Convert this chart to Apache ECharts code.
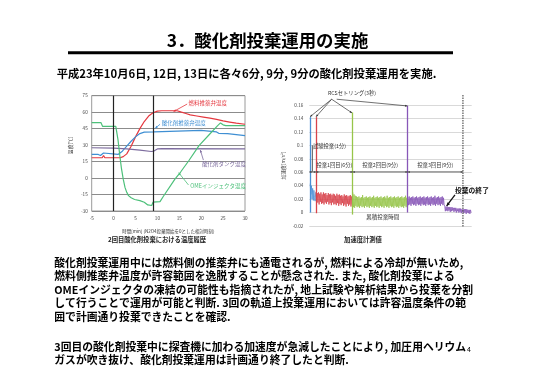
<!DOCTYPE html>
<html><head><meta charset="utf-8">
<script src="https://cdn.jsdelivr.net/npm/echarts/dist/echarts.min.js"></script>
<style>html,body{margin:0;padding:0;background:#fff}#c{width:550px;height:388px}</style>
</head><body><div id="c"></div>
<script>
const FONT = '"Noto Sans CJK JP","Noto Sans",sans-serif';

// ---------- Left chart: temperature history (2nd oxidizer dump) ----------
const tempXMin = -5, tempXMax = 30, tempXStep = 5;
const tempYMin = -30, tempYMax = 75, tempYStep = 15;
// [time (min), temperature (degC)]
const fuelValveTemp = [[-5,18.5],[-2.6,18.5],[-2.3,20.5],[-2.0,18.5],[1.5,18.5],[2.2,19.5],[3,22],[4,29],[5,37.5],[6,45],[7,51.5],[8,56.5],[9,59.5],[10,61],[11,61.3],[14.5,61.3],[15.5,60],[16.5,58.8],[17.5,57.5],[19,56.5],[20.5,55.5],[22,54.5],[23.5,53.5],[25,52],[26.5,51],[28,50],[30,49]];
const oxValveTemp = [[-5,21.5],[-3.5,21.5],[-3.0,20.5],[-2.6,20.5],[-2.3,22.8],[-2.0,21.5],[1,21.5],[2,24.5],[3,29],[4,33.5],[5,37.5],[6,40.5],[7,41.8],[9.2,42],[9.6,43.5],[20,43.5],[20.3,42.3],[23.5,42],[24,40.7],[26,40.5],[26.3,38.8],[30,38.6]];
const oxTankTemp = [[-5,27.6],[0,27.2],[3,26.6],[6,25.5],[8.6,24.2],[9.2,24.6],[10,26.5],[11,26.8],[30,26.5]];
const omeInjTemp = [[-5,50.5],[-2.9,50.5],[-2.5,47],[0.5,47],[1.0,35],[1.4,21],[1.8,8.5],[2.2,-1],[2.6,-8.5],[3.0,-13],[3.4,-16],[4,-18],[4.8,-19.5],[6,-20.5],[7,-22],[7.8,-24.5],[8.7,-25],[9.0,-22],[10.6,-21.5],[11.3,-17],[14,-1],[15.3,5.5],[17.2,16],[19.5,29.5],[21.7,39],[23.7,47.5],[24.4,50.2],[25,48.5],[25.6,47.8],[30,47.8]];
const dumpEventTimes = [0, 9];
const tempSeriesNames = ['燃料推薬弁温度','酸化剤推薬弁温度','酸化剤タンク温度','OMEインジェクタ温度'];
const tempColors = ['#e5383f','#3f8fd3','#7d6c9e','#4dc07a'];

// ---------- Right chart: acceleration ----------
const accYMin = -0.02, accYMax = 0.16, accYStep = 0.02;
const accXMax = 26.5;
const sampleStep = 0.1;
const testStart = 0.15;
const testAcc = [0.043,0.027,0.040,0.020,0.036,0.018,0.033,0.022,0.017,0.030];
const dump1Start = 1.1;
const dump1Acc = [0.031,0.014,0.029,0.015,0.030,0.012,0.028,0.016,0.030,0.013,
0.027,0.014,0.030,0.012,0.028,0.015,0.029,0.013,0.026,0.016,
0.029,0.012,0.027,0.014,0.028,0.011,0.026,0.015,0.028,0.012,
0.027,0.013,0.025,0.011,0.028,0.014,0.026,0.010,0.027,0.013,
0.025,0.011,0.026,0.014,0.024,0.010,0.027,0.012,0.025,0.009,
0.026,0.013,0.024,0.010,0.025,0.012,0.026,0.009,0.024,0.012,0.022];
const dump2Start = 7.1;
const dump2Acc = [0.030,0.008,0.027,0.007,0.025,0.010,0.024,0.008,0.023,0.009,
0.024,0.007,0.022,0.010,0.023,0.008,0.026,0.009,0.022,0.007,
0.023,0.010,0.024,0.008,0.022,0.009,0.023,0.007,0.024,0.010,
0.022,0.008,0.023,0.009,0.025,0.007,0.022,0.010,0.023,0.008,
0.024,0.009,0.022,0.007,0.023,0.010,0.024,0.008,0.022,0.009,
0.023,0.007,0.024,0.010,0.022,0.008,0.025,0.009,0.022,0.007,
0.023,0.010,0.024,0.008,0.022,0.009,0.023,0.007,0.024,0.010,
0.022,0.008,0.023,0.009,0.024,0.007,0.022,0.010,0.023,0.008,
0.024,0.009,0.022,0.007,0.023,0.010,0.025,0.008,0.022,0.009];
const dump3Start = 16.1;
const dump3Acc = [0.023,0.011,0.024,0.012,0.022,0.010,0.023,0.013,0.024,0.011,
0.022,0.012,0.023,0.010,0.024,0.013,0.022,0.011,0.023,0.012,
0.024,0.010,0.022,0.013,0.023,0.011,0.024,0.012,0.022,0.010,
0.023,0.013,0.024,0.011,0.022,0.012,0.023,0.010,0.024,0.013,
0.022,0.011,0.023,0.012,0.025,0.010,0.022,0.013,0.023,0.011,
0.024,0.012,0.022,0.010,0.023,0.013,0.024,0.011,0.022,0.012,
0.009,0.002,0.009,0.003,0.009,0.002,0.008,0.003,0.008,0.001,
0.008,0.002,0.008,0.003,0.007,0.001,0.007,0.002,0.007,0.000,
0.006,0.002,0.006,0.000,0.006,0.001,0.006,-0.001,0.005,0.001,
0.005,-0.001,0.005,0.000,0.005,-0.002,0.005,0.000,0.004,-0.001,
0.004,-0.002,0.004,0.000];
// [time, bottom, top] of RCS settling spikes
const settlingSpikes = [[0.1,0.0,0.142],[1.1,-0.001,0.142],[7.08,-0.003,0.149],[16.05,0.0,0.159]];
const segmentBounds = [0, 1.1, 7.08, 16.05, 25.07];
const segmentLabels = ['投棄1回目(6分)','投棄2回目(9分)','投棄3回目(9分)'];
const accColors = ['#4a8fd6','#d8434b','#97c54a','#8857b8'];

// ---------- Texts ----------
const titleText = '3．酸化剤投棄運用の実施';
const subtitleText = '平成23年10月6日, 12日, 13日に各々6分, 9分, 9分の酸化剤投棄運用を実施.';
const bodyPara1 = [
 '酸化剤投棄運用中には燃料側の推薬弁にも通電されるが, 燃料による冷却が無いため,',
 '燃料側推薬弁温度が許容範囲を逸脱することが懸念された. また, 酸化剤投棄による',
 'OMEインジェクタの凍結の可能性も指摘されたが, 地上試験や解析結果から投棄を分割',
 'して行うことで運用が可能と判断. 3回の軌道上投棄運用においては許容温度条件の範',
 '囲で計画通り投棄できたことを確認.'
];
const bodyPara2 = [
 '3回目の酸化剤投棄中に探査機に加わる加速度が急減したことにより, 加圧用ヘリウム',
 'ガスが吹き抜け、酸化剤投棄運用は計画通り終了したと判断.'
];

const chart = echarts.init(document.getElementById('c'), null, {renderer:'canvas'});

function seg(start, arr){ return arr.map((v,i)=>[+(start+i*sampleStep).toFixed(3), v]); }

const tempData = [fuelValveTemp, oxValveTemp, oxTankTemp, omeInjTemp];
const accSegs = [seg(testStart,testAcc), seg(dump1Start,dump1Acc), seg(dump2Start,dump2Acc), seg(dump3Start,dump3Acc)];

const series = [];
tempData.forEach((d,i)=>{
  const s = {type:'line', name:tempSeriesNames[i], xAxisIndex:0, yAxisIndex:0, data:d, showSymbol:false,
    lineStyle:{color:tempColors[i], width:1.2}, itemStyle:{color:tempColors[i]}, animation:false, z:3};
  if(i===0){
    s.markLine = {silent:true, symbol:'none', label:{show:false}, animation:false,
      lineStyle:{color:'#222', width:1.2, type:'solid'}, data: dumpEventTimes.map(x=>({xAxis:x}))};
  }
  series.push(s);
});
accSegs.forEach((d,i)=>{
  const sp = settlingSpikes[i];
  series.push({type:'line', xAxisIndex:1, yAxisIndex:1, data:d, showSymbol:false,
    lineStyle:{color:accColors[i], width:0.8}, itemStyle:{color:accColors[i]}, animation:false, z:3,
    markLine:{silent:true, symbol:'none', label:{show:false}, animation:false,
      lineStyle:{color:accColors[i], width:1.3, type:'solid'},
      data:[[{coord:[sp[0],sp[1]]},{coord:[sp[0],sp[2]]}]]}});
});

const tickLabel = {fontSize:4.6, color:'#444', fontFamily:FONT};
chart.setOption({
  animation:false,
  backgroundColor:'#fff',
  grid:[
    {left:91.7, top:95.7, width:153.3, height:115.3, show:true, borderColor:'#9a9a9a', borderWidth:1},
    {left:309.3, top:105, width:162.4, height:121}
  ],
  xAxis:[
    {type:'value', gridIndex:0, min:tempXMin, max:tempXMax, interval:tempXStep,
      axisLine:{show:false}, axisTick:{show:false}, splitLine:{show:false},
      axisLabel:Object.assign({margin:5}, tickLabel)},
    {type:'value', gridIndex:1, min:0, max:accXMax, show:false}
  ],
  yAxis:[
    {type:'value', gridIndex:0, min:tempYMin, max:tempYMax, interval:tempYStep,
      axisLine:{show:false}, axisTick:{show:false},
      splitLine:{lineStyle:{color:'#8c8c8c', width:1}},
      axisLabel:Object.assign({margin:4}, tickLabel)},
    {type:'value', gridIndex:1, min:accYMin, max:accYMax, interval:accYStep,
      axisLine:{show:false}, axisTick:{show:false},
      splitLine:{lineStyle:{color:'#d9d9d9', width:1}},
      axisLabel:Object.assign({margin:6, formatter:v=>String(+v.toFixed(2))}, tickLabel)}
  ],
  series:series
});

// ---------- annotations (placed from data coordinates) ----------
const P0 = p => chart.convertToPixel({gridIndex:0}, p);
const P1 = p => chart.convertToPixel({gridIndex:1}, p);
const G = [];
function txt(x,y,text,size,color,opt){
  opt = opt||{};
  G.push({type:'text', x:x, y:y, z:100, silent:true, rotation:opt.rot||0,
    style:{text:text, fontSize:size, fontFamily:FONT, fontWeight:opt.w||'normal', fill:color,
      align:opt.align||'left', verticalAlign:opt.va||'middle'}});
}
function head(p, ux, uy, hs, color){
  const bx=p[0]-ux*hs, by=p[1]-uy*hs, px=-uy*hs*0.45, py=ux*hs*0.45;
  G.push({type:'polygon', z:100, silent:true, shape:{points:[[p[0],p[1]],[bx+px,by+py],[bx-px,by-py]]}, style:{fill:color}});
}
function arrow(a,b,color,lw,hs,both){
  const dx=b[0]-a[0], dy=b[1]-a[1], L=Math.hypot(dx,dy), ux=dx/L, uy=dy/L;
  G.push({type:'line', z:100, silent:true, shape:{x1:a[0],y1:a[1],x2:b[0],y2:b[1]}, style:{stroke:color, lineWidth:lw}});
  head(b,ux,uy,hs,color);
  if(both) head(a,-ux,-uy,hs,color);
}

// Left chart labels
const leftNotes = [
  {t:[17.1,68.6], a:[16.8,67.4], b:[13.7,60.6]},
  {t:[11.0,49.9], a:[10.6,49.0], b:[9.5,45.3]},
  {t:[20.2,12.5], a:[20.5,16.4], b:[19.8,25.5]},
  {t:[17.5,-7.2], a:[17.1,-6.3], b:[14.85,4.9]}
];
leftNotes.forEach((n,i)=>{
  const p=P0(n.t); txt(p[0],p[1],tempSeriesNames[i],5.5,tempColors[i]);
  arrow(P0(n.a),P0(n.b),tempColors[i],0.8,2.5,false);
});
{ const a=P0([tempXMin,tempYMin]), b=P0([tempXMax,tempYMax]);
  txt(70, (a[1]+b[1])/2 - 8, '温度[℃]', 4.8, '#333', {rot:Math.PI/2, align:'center'});
  txt((a[0]+b[0])/2, 231, '時間[min] (N2O4投棄開始を0とした相対時刻)', 4.5, '#333', {align:'center'});
}

// Right chart annotations
{
  const yArr = 0.0605;
  for(let i=0;i<4;i++) arrow(P1([segmentBounds[i],yArr]),P1([segmentBounds[i+1],yArr]),'#444',0.8,2.2,true);
  segmentLabels.forEach((s,i)=>{
    const p=P1([(segmentBounds[i+1]+segmentBounds[i+2])/2, 0.0708]); txt(p[0],p[1],s,5.3,'#333',{align:'center'});
  });
  // test dump bracket
  const b1=P1([0.5,0.1]), b2=P1([0.5,0.061]);
  G.push({type:'line', z:100, silent:true, shape:{x1:b1[0],y1:b1[1],x2:b2[0],y2:b2[1]}, style:{stroke:'#333', lineWidth:0.8}});
  const tp=P1([0.6,0.0995]); txt(tp[0],tp[1],'試験投棄(1分)',5.3,'#333');
  // RCS settling
  const rl=P1([3.05,0.1775]); txt(rl[0],rl[1],'RCSセトリング(3秒)',5.3,'#333');
  const o1=P1([3.65,0.1686]), o2=P1([4.47,0.1686]);
  arrow(o1,P1([0.12,0.1425]),'#333',0.7,2.3,false);
  arrow(o1,P1([1.1,0.1425]),'#333',0.7,2.3,false);
  arrow(o1,P1([6.97,0.1482]),'#333',0.7,2.3,false);
  arrow(o2,P1([16.0,0.1586]),'#333',0.7,2.3,false);
  // end of dumping
  const d1=P1([25.07,0.175]), d2=P1([25.07,-0.0214]);
  G.push({type:'line', z:100, silent:true, shape:{x1:d1[0],y1:d1[1],x2:d2[0],y2:d2[1]}, style:{stroke:'#555', lineWidth:1.2, lineDash:[1.5,1]}});
  const ep=P1([23.77,0.0336]); txt(ep[0],ep[1],'投棄の終了',6.8,'#111',{w:'bold'});
  arrow(P1([23.77,0.0262]),P1([22.41,0.0098]),'#111',1.3,3.5,false);
  const xl=P1([12.0,-0.0061]); txt(xl[0],xl[1],'累積投棄時間',5.5,'#333',{align:'center'});
  const ya=P1([0,0.07]); txt(283.3, ya[1], '加速度[m/s²]', 4.8, '#333', {rot:Math.PI/2, align:'center'});
}

// Page texts
txt(267.5, 40.7, titleText, 17.4, '#000', {align:'center', w:'bold'});
G.push({type:'rect', z:100, silent:true, shape:{x:68, y:51.3, width:385, height:3}, style:{fill:'#000'}});
txt(246.5, 74, subtitleText, 11.3, '#000', {align:'center', w:'bold'});
txt(157, 240, '2回目酸化剤投棄における温度履歴', 6.3, '#222', {align:'center', w:'bold'});
txt(363, 240, '加速度計測値', 6.3, '#222', {align:'center', w:'bold'});
bodyPara1.forEach((s,i)=>txt(54.3, 262.5+i*13.6, s, 10.8, '#000', {w:'bold'}));
bodyPara2.forEach((s,i)=>txt(54.3, 347+i*13, s, 10.8, '#000', {w:'bold'}));
txt(469, 349, '4', 7, '#000', {align:'center'});

chart.setOption({graphic:G});
</script></body></html>
